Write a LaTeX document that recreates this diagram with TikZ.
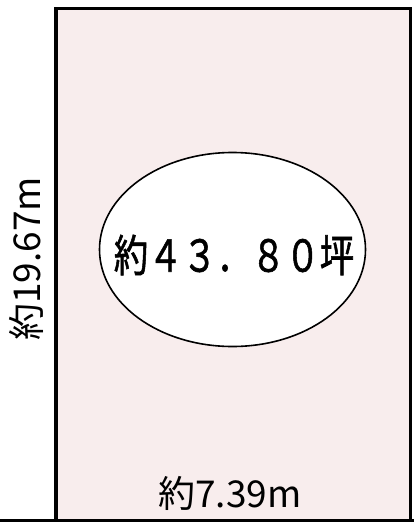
\documentclass[tikz,border=0pt]{standalone}
\usepackage{fontspec}
\usetikzlibrary{shapes.geometric}
\newfontfamily\jp{Noto Sans CJK JP}
\newfontfamily\jpb{Noto Sans CJK JP}[FakeBold=1.5]
\definecolor{lot}{HTML}{F8EDED}
\begin{document}
\begin{tikzpicture}[x=1pt,y=-1pt,
  border/.style={line width=3.5pt,draw=black},
  dimlabel/.style={font=\jp\fontsize{37}{40}\selectfont,inner sep=0pt},
  area/.style={font=\jpb\fontsize{44}{48}\selectfont,inner sep=0pt,xscale=0.78}]
\useasboundingbox (0,0) rectangle (414,522);
\fill[lot] (56,8.5) rectangle (410.5,520.5);
\draw[border,line join=miter] (56,520.5) -- (56,8.5) -- (410.5,8.5) -- (410.5,520.5);
\draw[line width=3pt] (0,520.5) -- (414,520.5);
\node[draw=black,line width=1.6pt,fill=white,ellipse,minimum width=266pt,minimum height=194pt,inner sep=0pt] (oval) at (232.5,249.5) {};
\node[area] (a) at (234,255) {約４３．８０坪};
\node[dimlabel,rotate=90] (h) at (26,259) {約19.67m};
\node[dimlabel] (w) at (230,493) {約7.39m};
\end{tikzpicture}
\end{document}
